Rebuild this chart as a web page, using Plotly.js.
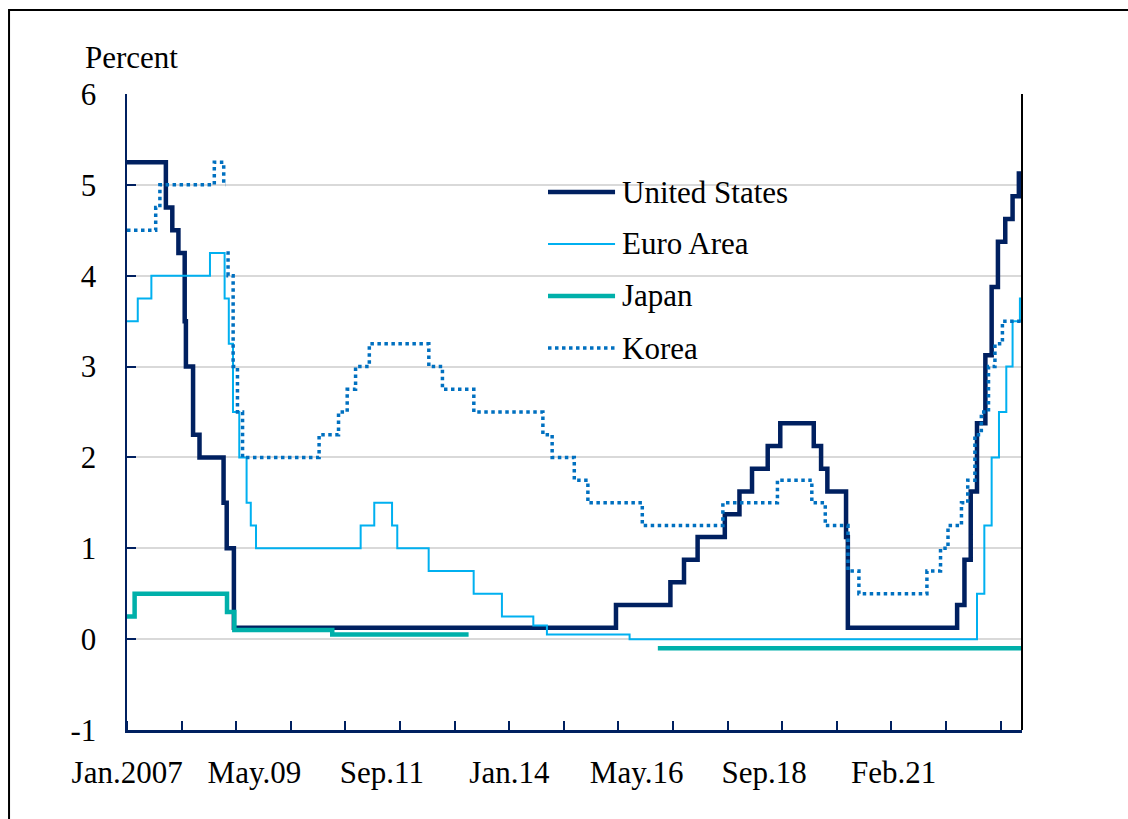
<!DOCTYPE html>
<html>
<head>
<meta charset="utf-8">
<script src="https://cdn.plot.ly/plotly-3.0.1.min.js"></script>
<style>html,body{margin:0;padding:0;background:#fff;}#chart{width:1128px;height:819px;}</style>
</head>
<body>
<div id="chart"></div>
<script>
// ---- Data (policy rates, percent; dates of changes) ----
const usDates = ['2007-01-01','2007-09-18','2007-10-31','2007-12-11','2008-01-22','2008-01-30','2008-03-18','2008-04-30','2008-10-08','2008-10-29','2008-12-16','2015-12-16','2016-12-14','2017-03-15','2017-06-14','2017-12-13','2018-03-21','2018-06-13','2018-09-26','2018-12-19','2019-07-31','2019-09-18','2019-10-30','2020-03-03','2020-03-15','2022-03-16','2022-05-04','2022-06-15','2022-07-27','2022-09-21','2022-11-02','2022-12-14','2023-02-01','2023-03-22','2023-05-03','2023-05-31'];
const usRates = [5.25,4.75,4.5,4.25,3.5,3.0,2.25,2.0,1.5,1.0,0.125,0.375,0.625,0.875,1.125,1.375,1.625,1.875,2.125,2.375,2.125,1.875,1.625,1.125,0.125,0.375,0.875,1.625,2.375,3.125,3.875,4.375,4.625,4.875,5.125,5.125];

const euDates = ['2007-01-01','2007-03-14','2007-06-13','2008-07-09','2008-10-15','2008-11-12','2008-12-10','2009-01-21','2009-03-11','2009-04-08','2009-05-13','2011-04-13','2011-07-13','2011-11-09','2011-12-14','2012-07-11','2013-05-08','2013-11-13','2014-06-11','2014-09-10','2016-03-16','2022-07-27','2022-09-14','2022-11-02','2022-12-21','2023-02-08','2023-03-22','2023-05-10','2023-05-31'];
const euRates = [3.5,3.75,4.0,4.25,3.75,3.25,2.5,2.0,1.5,1.25,1.0,1.25,1.5,1.25,1.0,0.75,0.5,0.25,0.15,0.05,0.0,0.5,1.25,2.0,2.5,3.0,3.5,3.75,3.75];

const jpDates = ['2007-01-01','2007-02-21','2008-10-31','2008-12-19','2010-10-05','2013-04-04','2013-04-05','2016-09-21','2023-05-31'];
const jpRates = [0.25,0.5,0.3,0.1,0.05,0.05,null,-0.1,-0.1];

const krDates = ['2007-01-01','2007-07-12','2007-08-09','2008-08-07','2008-10-09','2008-10-20','2008-10-21','2008-10-27','2008-11-07','2008-12-11','2009-01-09','2009-02-12','2010-07-09','2010-11-16','2011-01-13','2011-03-10','2011-06-10','2012-07-12','2012-10-11','2013-05-09','2014-08-14','2014-10-15','2015-03-12','2015-06-11','2016-06-09','2017-11-30','2018-11-30','2019-07-18','2019-10-16','2020-03-16','2020-05-28','2021-08-26','2021-11-25','2022-01-14','2022-04-14','2022-05-26','2022-07-13','2022-08-25','2022-10-12','2022-11-24','2023-01-13','2023-05-31'];
const krRates = [4.5,4.75,5.0,5.25,5.0,5.0,null,4.25,4.0,3.0,2.5,2.0,2.25,2.5,2.75,3.0,3.25,3.0,2.75,2.5,2.25,2.0,1.75,1.5,1.25,1.5,1.75,1.5,1.25,0.75,0.5,0.75,1.0,1.25,1.5,1.75,2.25,2.5,3.0,3.25,3.5,3.5];

const seriesNames = ['United States','Euro Area','Japan','Korea'];

// ---- Axis labels ----
const xTickVals = ['2007-01-02','2009-05-02','2011-09-02','2014-01-02','2016-05-02','2018-09-02','2021-01-15'];
const xTickText = ['Jan.2007','May.09','Sep.11','Jan.14','May.16','Sep.18','Feb.21'];
const yTickVals = [-1,0,1,2,3,4,5,6];
const yTickText = ['-1','0','1','2','3','4','5','6'];

// ---- Styles ----
const FONT = 'Liberation Serif, Times New Roman, serif';
const NAVY = '#002060';
const styles = [
  {color:'#002060', width:4.5, dash:'solid'},
  {color:'#00B0F0', width:2, dash:'solid'},
  {color:'#00B0AA', width:4.5, dash:'solid'},
  {color:'#0070C0', width:3.5, dash:'dot'}
];
const xs = [usDates, euDates, jpDates, krDates];
const ys = [usRates, euRates, jpRates, krRates];

const traces = seriesNames.map((n,i)=>({
  type:'scatter', mode:'lines', name:n, x:xs[i], y:ys[i],
  line:{shape:'hv', color:styles[i].color, width:styles[i].width, dash:styles[i].dash},
  connectgaps:false, hoverinfo:'skip'
}));

// legend (manual) positions in paper coords
const legX0 = 0.4704, legX1 = 0.5453, legTextX = 0.5508;
const legY = [0.8459, 0.7642, 0.6824, 0.6006];
const shapes = [];
const annotations = [];
seriesNames.forEach((n,i)=>{
  shapes.push({type:'line', xref:'paper', yref:'paper', x0:legX0, x1:legX1, y0:legY[i], y1:legY[i],
    line:{color:styles[i].color, width:styles[i].width, dash:styles[i].dash}});
  annotations.push({xref:'paper', yref:'paper', x:legTextX, y:legY[i], xanchor:'left', yanchor:'middle',
    text:n, showarrow:false, font:{family:FONT, size:31, color:'#000'}});
});
// right border of plot area
shapes.push({type:'line', xref:'paper', yref:'paper', x0:1, x1:1, y0:0, y1:1, line:{color:'#000', width:2}});
// outer frame
shapes.push({type:'rect', xref:'paper', yref:'paper', x0:-0.1318, x1:1.1263, y0:-0.1572, y1:1.1321,
  line:{color:'#000', width:2}, fillcolor:'rgba(0,0,0,0)'});
annotations.push({xref:'paper', yref:'paper', x:-0.0491, y:1.058, xanchor:'left', yanchor:'middle',
  text:'Percent', showarrow:false, font:{family:FONT, size:31, color:'#000'}});

const layout = {
  width:1128, height:819,
  margin:{l:127, r:106, t:94, b:89, pad:0},
  paper_bgcolor:'#fff', plot_bgcolor:'#fff',
  font:{family:FONT, size:31, color:'#000'},
  showlegend:false,
  xaxis:{
    type:'date', range:['2007-01-01','2023-05-24'],
    tickmode:'array', tickvals:xTickVals, ticktext:xTickText,
    ticks:'', showgrid:false, zeroline:false,
    showline:true, linecolor:NAVY, linewidth:2.5,
    ticklabelstandoff:13,
    tickfont:{family:FONT, size:31, color:'#000'},
    minor:{ticks:'inside', ticklen:9, tickwidth:2, tickcolor:NAVY, tickmode:'linear', tick0:'2007-01-01', dtick:'M12', showgrid:false}
  },
  yaxis:{
    range:[-1,6], tickmode:'array', tickvals:yTickVals, ticktext:yTickText,
    ticks:'inside', ticklen:9, tickwidth:2, tickcolor:NAVY,
    showgrid:true, gridcolor:'#D9D9D9', gridwidth:2, zeroline:false,
    showline:true, linecolor:NAVY, linewidth:2.5,
    ticklabelstandoff:22,
    tickfont:{family:FONT, size:31, color:'#000'}
  },
  shapes:shapes, annotations:annotations
};

Plotly.newPlot('chart', traces, layout, {staticPlot:true, displayModeBar:false});
</script>
</body>
</html>
